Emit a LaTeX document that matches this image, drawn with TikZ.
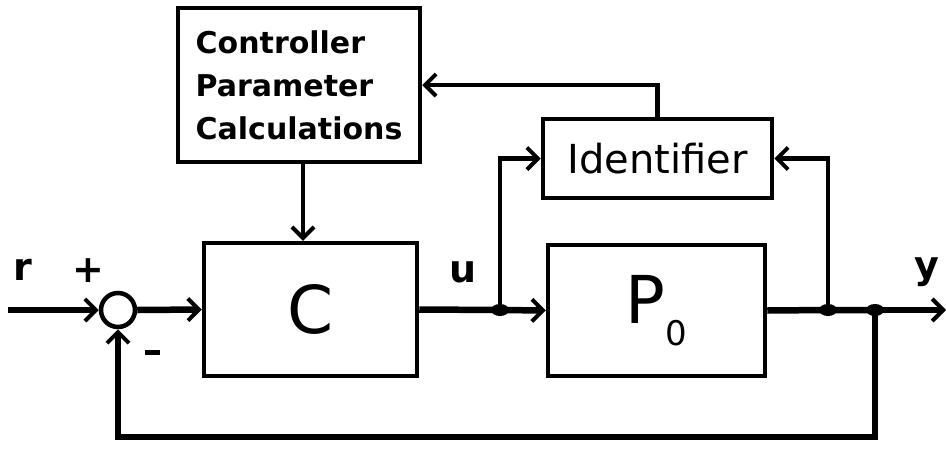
\documentclass[tikz,border=0pt]{standalone}
\usepackage{fontspec}
\setmainfont{DejaVu Sans}
\usetikzlibrary{arrows.meta}
\begin{document}
\begin{tikzpicture}[x=1pt,y=-1pt,
  box/.style={draw,line width=4.5pt,inner sep=0pt},
  sig/.style={line width=6.5pt},
  thinline/.style={line width=4.5pt},
  tip/.style={-{Straight Barb[length=11pt,width=22pt,line width=4pt]}},
  lbl/.style={font=\fontsize{38}{38}\selectfont\bfseries,inner sep=0pt}]
\useasboundingbox (0,0) rectangle (946,475);
% blocks
\node[box,minimum width=242pt,minimum height=154pt,align=left,
      font=\fontsize{30}{43}\selectfont\bfseries] (cpc) at (299,85)
      {Controller\\Parameter\\Calculations};
\node[box,minimum width=229pt,minimum height=79pt,
      font=\fontsize{40}{40}\selectfont] (id) at (657.5,158.5) {Identifier};
\node[box,minimum width=213pt,minimum height=133pt,
      font=\fontsize{66}{66}\selectfont] (C) at (310.5,309.5) {C};
\node[box,minimum width=217pt,minimum height=131pt] (P) at (656.5,310.5)
      {\fontsize{66}{66}\selectfont P\raisebox{-0.33em}{\fontsize{34}{34}\selectfont 0}};
\node[draw,circle,line width=4.5pt,minimum size=34pt,inner sep=0pt] (sum) at (118,310) {};
% coordinates
\coordinate (in) at (8,310);
\coordinate (ju) at (500,310);
\coordinate (jy) at (828,310);
\coordinate (jf) at (875,310);
\coordinate (out) at (946,310);
\coordinate (fb) at (875,437);
\coordinate (cpcdown) at (303,162);
% connectors
\draw[sig,tip] (in) -- (sum.west);
\draw[sig,tip] (sum.east) -- (C.west);
\draw[sig] (C.east) -- (ju);
\draw[sig,tip] (ju) -- (P.west);
\draw[thinline,tip] (ju) |- (id.west);
\draw[sig] (P.east) -- (jy) -- (jf);
\draw[sig,tip] (jf) -- (out);
\draw[thinline,tip] (jy) |- (id.east);
\draw[sig,tip] (jf) -- (fb) -| (sum.south);
\draw[thinline,tip] (id.north) |- (cpc.east);
\draw[thinline,tip] (cpcdown) -- (cpcdown |- C.north);
% junction dots
\fill (ju) ellipse (9pt and 6pt);
\fill (jy) ellipse (9pt and 6pt);
\fill (jf) ellipse (9pt and 6pt);
% labels
\node[lbl] (lr) at (23,270) {r};
\node[lbl] (lp) at (88,271) {+};
\node[lbl] (lm) at (152,352) {\rule{15pt}{5pt}};
\node[lbl] (lu) at (463,272) {u};
\node[lbl] (ly) at (927,272) {y};
\end{tikzpicture}
\end{document}
